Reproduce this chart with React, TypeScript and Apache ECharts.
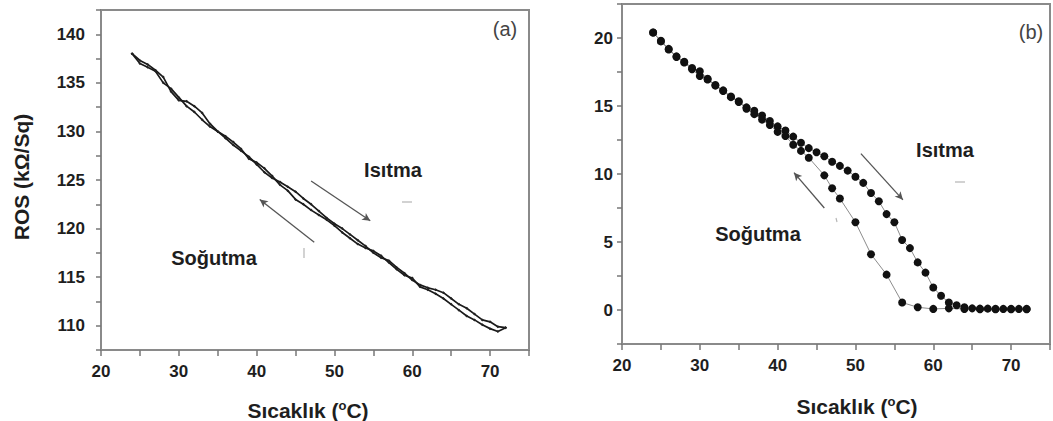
import React, { useEffect, useRef } from "react";
import * as echarts from "echarts";

// Panel (a): resistance vs temperature (kΩ/Sq)
const tempA = [24, 25, 26, 27, 28, 29, 30, 31, 32, 33, 34, 35, 36, 37, 38, 39, 40, 41, 42, 43, 44, 45, 46, 47, 48, 49, 50, 51, 52, 53, 54, 55, 56, 57, 58, 59, 60, 61, 62, 63, 64, 65, 66, 67, 68, 69, 70, 71, 72];
const heatA = [138.0, 137.0, 136.6, 136.2, 135.0, 134.4, 133.5, 132.6, 132.0, 131.2, 130.5, 130.0, 129.3, 128.6, 128.0, 127.4, 126.6, 125.8, 125.2, 124.8, 124.3, 123.8, 123.1, 122.5, 121.8, 121.1, 120.5, 120.0, 119.4, 118.8, 118.2, 117.5, 117.0, 116.7, 116.0, 115.4, 114.7, 114.2, 113.9, 113.7, 113.4, 112.8, 112.2, 111.8, 111.2, 110.6, 110.4, 109.9, 109.8];
const coolA = [138.0, 137.3, 136.9, 136.3, 135.6, 134.1, 133.2, 133.1, 132.6, 131.9, 130.8, 130.0, 129.5, 128.9, 128.2, 127.2, 126.8, 126.2, 125.4, 124.5, 123.9, 123.0, 122.5, 121.9, 121.4, 120.9, 120.3, 119.6, 119.0, 118.4, 118.0, 117.7, 117.2, 116.5, 115.8, 115.2, 114.9, 114.0, 113.7, 113.3, 112.8, 112.2, 111.6, 111.0, 110.6, 110.1, 109.7, 109.4, 109.8];

// Panel (b)
const tempHeatB = [24, 25, 26, 27, 28, 29, 30, 31, 32, 33, 34, 35, 36, 37, 38, 39, 40, 41, 42, 43, 44, 45, 46, 47, 48, 49, 50, 51, 52, 53, 54, 55, 56, 57, 58, 59, 60, 61, 62, 63, 64, 65, 66, 67, 68, 69, 70, 71, 72];
const heatB = [20.4, 19.8, 19.2, 18.65, 18.25, 17.8, 17.55, 17.0, 16.55, 16.15, 15.7, 15.35, 14.9, 14.65, 14.3, 13.9, 13.5, 13.2, 12.75, 12.3, 11.9, 11.6, 11.3, 10.9, 10.6, 10.25, 9.8, 9.35, 8.6, 8.0, 7.05, 6.45, 5.15, 4.55, 3.5, 2.75, 1.65, 1.05, 0.55, 0.35, 0.2, 0.12, 0.1, 0.1, 0.08, 0.08, 0.08, 0.08, 0.08];
const tempCoolB = [24, 25, 26, 27, 28, 29, 30, 31, 32, 33, 34, 35, 36, 37, 38, 39, 40, 41, 42, 43, 44, 46, 47, 48, 50, 52, 54, 56, 58, 60, 62, 64, 66, 68, 70, 72];
const coolB = [20.4, 19.75, 19.15, 18.6, 18.2, 17.7, 17.2, 16.95, 16.5, 16.1, 15.65, 15.3, 14.8, 14.4, 14.0, 13.6, 13.1, 12.8, 12.15, 11.7, 11.2, 9.9, 8.95, 8.2, 6.45, 4.1, 2.6, 0.55, 0.2, 0.08, 0.12, 0.08, 0.05, 0.05, 0.05, 0.05];

// Arrow annotations (data coordinates: [start, end])
const arrowHeatA = [[47.0, 124.9], [54.6, 120.8]];
const arrowCoolA = [[47.4, 118.6], [40.4, 123.0]];
const arrowHeatB = [[50.7, 11.5], [56.1, 8.1]];
const arrowCoolB = [[46.0, 7.5], [42.1, 10.1]];

const xTitle = "Sıcaklık ({sup|o}C)";
const yTitle = "ROS (kΩ/Sq)";
const heatLabel = "Isıtma";
const coolLabel = "Soğutma";

const FONT = "Arial";
const AXIS_GRAY = "#8a8a8a";
const TEXT = "#1e1e1e";

const pairs = (xs: number[], ys: number[]) => xs.map((x, i) => [x, ys[i]]);

const arrowML = (arrows: number[][][]) => ({
  silent: true,
  symbol: ["none", "arrow"],
  symbolSize: [6, 8],
  label: { show: false },
  lineStyle: { color: "#555", width: 1.3, type: "solid" },
  data: arrows.map((a) => [{ coord: a[0] }, { coord: a[1] }]),
});

const labelFont = { color: TEXT, fontFamily: FONT, fontWeight: "bold", fontSize: 17 };

const xAxisCfg = (gridIndex: number) => ({
  type: "value",
  gridIndex,
  min: 20,
  max: 75,
  interval: 5,
  axisLine: { onZero: false, lineStyle: { color: AXIS_GRAY, width: 2 } },
  axisTick: { show: true, inside: false, length: 6, lineStyle: { color: "#777", width: 1.5 } },
  axisLabel: {
    show: true,
    margin: 13,
    ...labelFont,
    formatter: (v: number) => (v % 10 === 0 ? String(v) : ""),
  },
  splitLine: { show: false },
});

const yAxisCfg = (gridIndex: number, min: number, max: number, margin: number) => ({
  type: "value",
  gridIndex,
  min,
  max,
  interval: 2.5,
  axisLine: { onZero: false, lineStyle: { color: AXIS_GRAY, width: 2 } },
  axisTick: { show: true, inside: false, length: 5, lineStyle: { color: "#777", width: 1.5 } },
  axisLabel: {
    show: true,
    margin,
    ...labelFont,
    formatter: (v: number) => (Math.abs(v % 5) < 1e-9 ? String(v) : ""),
  },
  splitLine: { show: false },
});

const boldText = (x: number, y: number, text: string, size: number, extra: any = {}) => ({
  type: "text",
  x,
  y,
  silent: true,
  ...extra,
  style: {
    text,
    fill: TEXT,
    fontFamily: FONT,
    fontWeight: 700,
    fontSize: size,
    textAlign: "center",
    textVerticalAlign: "middle",
    rich: {
      sup: { fontSize: 13, fontWeight: 700, fontFamily: FONT, fill: TEXT, verticalAlign: "top", padding: [0, 0, 9, 0] },
    },
  },
});

const smallMark = (x1: number, y1: number, x2: number, y2: number) => ({
  type: "line",
  silent: true,
  shape: { x1, y1, x2, y2 },
  style: { stroke: "#b5b5b5", lineWidth: 1.2 },
});

export default function App() {
  const ref = useRef<HTMLDivElement>(null);

  useEffect(() => {
    if (!ref.current) return;
    const chart = echarts.init(ref.current, undefined, { renderer: "svg" });
    const option: any = {
      animation: false,
      backgroundColor: "#ffffff",
      grid: [
        { left: 101, top: 10, width: 428, height: 340, show: true, borderColor: AXIS_GRAY, borderWidth: 2 },
        { left: 622, top: 4, width: 436, height: 340, show: true, borderColor: AXIS_GRAY, borderWidth: 2 },
      ],
      xAxis: [xAxisCfg(0), xAxisCfg(1)],
      yAxis: [yAxisCfg(0, 107.5, 142.5, 16), yAxisCfg(1, -2.5, 22.5, 9)],
      series: [
        {
          name: "Isıtma (a)",
          type: "line",
          xAxisIndex: 0,
          yAxisIndex: 0,
          data: pairs(tempA, heatA),
          symbol: "diamond",
          symbolSize: 3,
          itemStyle: { color: "#222" },
          lineStyle: { color: "#1a1a1a", width: 1.7 },
          markLine: arrowML([arrowHeatA, arrowCoolA]),
        },
        {
          name: "Soğutma (a)",
          type: "line",
          xAxisIndex: 0,
          yAxisIndex: 0,
          data: pairs(tempA, coolA),
          symbol: "diamond",
          symbolSize: 3,
          itemStyle: { color: "#222" },
          lineStyle: { color: "#1a1a1a", width: 1.7 },
        },
        {
          name: "Isıtma (b)",
          type: "line",
          xAxisIndex: 1,
          yAxisIndex: 1,
          data: pairs(tempHeatB, heatB),
          symbol: "circle",
          symbolSize: 8,
          itemStyle: { color: "#111" },
          lineStyle: { color: "#8c8c8c", width: 1 },
          markLine: arrowML([arrowHeatB, arrowCoolB]),
        },
        {
          name: "Soğutma (b)",
          type: "line",
          xAxisIndex: 1,
          yAxisIndex: 1,
          data: pairs(tempCoolB, coolB),
          symbol: "circle",
          symbolSize: 8,
          itemStyle: { color: "#111" },
          lineStyle: { color: "#8c8c8c", width: 1 },
        },
      ],
      graphic: [
        boldText(308, 410, xTitle, 21),
        boldText(857, 406, xTitle, 21),
        boldText(21, 177, yTitle, 21, { rotation: Math.PI / 2 }),
        boldText(393, 170, heatLabel, 20),
        boldText(214, 258, coolLabel, 20),
        boldText(945, 150, heatLabel, 20),
        boldText(758, 234, coolLabel, 20),
        {
          type: "text",
          x: 505,
          y: 29,
          silent: true,
          style: { text: "(a)", fill: "#444", fontFamily: FONT, fontSize: 20, textAlign: "center", textVerticalAlign: "middle" },
        },
        {
          type: "text",
          x: 1031,
          y: 32,
          silent: true,
          style: { text: "(b)", fill: "#444", fontFamily: FONT, fontSize: 20, textAlign: "center", textVerticalAlign: "middle" },
        },
        smallMark(402, 202, 412, 202),
        smallMark(304, 248, 304, 258),
        smallMark(955, 182, 965, 182),
        smallMark(836, 218, 837, 222),
      ],
    };
    chart.setOption(option);
    return () => chart.dispose();
  }, []);

  return (
    <div
      ref={ref}
      style={{ position: "fixed", left: 0, top: 0, width: 1053, height: 421, background: "#fff" }}
    />
  );
}
